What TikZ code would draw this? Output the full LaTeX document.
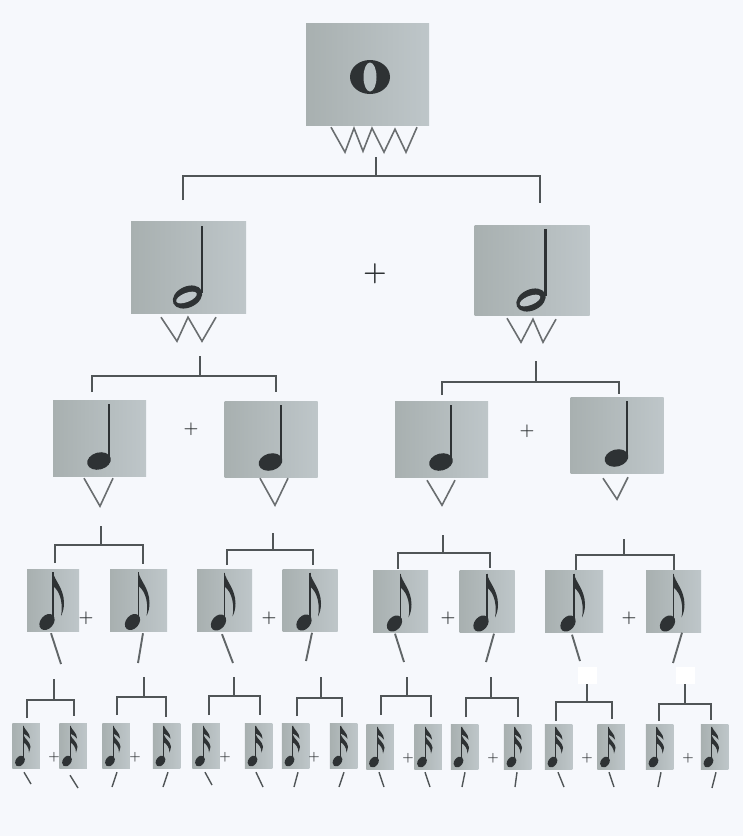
\documentclass[tikz,border=0pt]{standalone}
\usepackage{xcolor}
\usepackage{tikz}
\usetikzlibrary{calc}
\definecolor{fond}{HTML}{F6F8FC}
\definecolor{cartea}{HTML}{A8B0B0}
\definecolor{carteb}{HTML}{BEC6C9}
\definecolor{encre}{HTML}{2E3234}
\definecolor{gris}{HTML}{505557}
\tikzset{
  carte/.style={rectangle, inner sep=0, left color=cartea, right color=carteb, draw=none},
  carteA/.style={carte, minimum width=123pt, minimum height=102pt},
  carteB/.style={carte, minimum width=115pt, minimum height=92pt},
  carteC/.style={carte, minimum width=93pt, minimum height=76pt},
  carteD/.style={carte, minimum width=55pt, minimum height=62pt},
  carteE/.style={carte, minimum width=27.5pt, minimum height=45pt},
  blanc/.style={rectangle, fill=white, inner sep=0, minimum width=19pt, minimum height=17pt},
  plusA/.style={text=encre, inner sep=0, font=\fontsize{27}{27}\selectfont\bfseries},
  plusB/.style={text=encre, inner sep=0, font=\fontsize{17}{17}\selectfont\bfseries},
  plusC/.style={text=encre, inner sep=0, font=\fontsize{13}{13}\selectfont\bfseries},
  lien/.style={line width=1.8pt, color=gris},
  lienfin/.style={line width=1.4pt, color=gris},
  zigzag/.style={line width=1.6pt, color=gris!85, line join=miter},
  trait/.style={line width=1.9pt, color=gris!90},
  ronde/.pic={
    \fill[encre] (2.5,3) ellipse[x radius=20pt, y radius=17pt];
    \fill[carteb!70!cartea] (2.5,3) ellipse[x radius=6.5pt, y radius=14.5pt];
  },
  blanche/.pic={
    \draw[encre, line width=2.2pt] (13.5,-41) -- (13.5,26);
    \fill[encre] (-1,30) ellipse[x radius=15.5pt, y radius=10.5pt, rotate=25];
    \fill[carteb] (-2,30.5) ellipse[x radius=11pt, y radius=4.5pt, rotate=22];
  },
  noire/.pic={
    \draw[encre, line width=2pt] (9.5,-34) -- (9.5,21);
    \fill[encre] (-0.5,23) ellipse[x radius=12pt, y radius=8.5pt, rotate=15];
  },
  croche/.pic={
    \draw[encre, line width=1.6pt] (0,-28) -- (0,17);
    \fill[encre] (-6,22) ellipse[x radius=9pt, y radius=6.5pt, rotate=50];
    \fill[encre] (0,-28) .. controls (1,-20) and (11,-12) .. (11,3)
      .. controls (11,8) and (10,12) .. (8,16)
      .. controls (10,5) and (8,-8) .. (0,-14) -- cycle;
  },
  doublecroche/.pic={
    \draw[encre, line width=1.1pt] (-2.7,-20) -- (-2.7,13);
    \fill[encre] (-6,15.5) ellipse[x radius=6pt, y radius=4.2pt, rotate=55];
    \fill[encre] (-2.7,-20) .. controls (-1,-15) and (4,-13) .. (4,-7)
      .. controls (2,-9) and (0,-11) .. (-2.7,-12) -- cycle;
    \fill[encre] (-2.7,-11) .. controls (-1,-6) and (4,-4) .. (4.5,1)
      .. controls (4.5,3) and (3.5,5) .. (3,7)
      .. controls (3,2) and (0,-2) .. (-2.7,-3) -- cycle;
  }
}

\begin{document}
\begin{tikzpicture}[x=1pt, y=-1pt]
  \useasboundingbox (0,0) rectangle (743,836);
  \fill[fond] (0,0) rectangle (743,836);

  % les cartes
  \node[carteA] (r0) at (367.5,74) {};

  \node[carteB] (r1a) at (188.5,267) {};
  \node[carteB, minimum height=90pt] (r1b) at (532,270) {};

  \node[carteC] (r2a) at (99.5,438) {};
  \node[carteC] (r2b) at (271,439) {};
  \node[carteC] (r2c) at (441.5,439) {};
  \node[carteC] (r2d) at (617,435) {};

  \node[carteD, minimum width=52pt] (r3a) at (53,600) {};
  \node[carteD, minimum width=57pt] (r3b) at (138.5,600) {};
  \node[carteD] (r3c) at (224.5,600.5) {};
  \node[carteD] (r3d) at (310,600.5) {};
  \node[carteD] (r3e) at (400.5,601.5) {};
  \node[carteD] (r3f) at (487,601.5) {};
  \node[carteD, minimum width=58pt] (r3g) at (574,601.5) {};
  \node[carteD] (r3h) at (673.5,601.5) {};

  \node[carteE] (r4a) at (26,745.5) {};
  \node[carteE] (r4b) at (73,745.5) {};
  \node[carteE] (r4c) at (116,745.5) {};
  \node[carteE] (r4d) at (166.5,745.5) {};
  \node[carteE] (r4e) at (206,745.5) {};
  \node[carteE] (r4f) at (258.5,745.5) {};
  \node[carteE] (r4g) at (295.5,745.5) {};
  \node[carteE] (r4h) at (343.5,745.5) {};
  \node[carteE] (r4i) at (380,746.5) {};
  \node[carteE] (r4j) at (428,746.5) {};
  \node[carteE] (r4k) at (464.5,746.5) {};
  \node[carteE] (r4l) at (517.5,746.5) {};
  \node[carteE] (r4m) at (558.5,746.5) {};
  \node[carteE] (r4n) at (611,746.5) {};
  \node[carteE] (r4o) at (659.5,746.5) {};
  \node[carteE] (r4p) at (714.5,746.5) {};

  % les notes
  \pic at (r0) {ronde};
  \pic at (r1a) {blanche};
  \pic at (r1b) {blanche};
  \pic at (r2a) {noire};
  \pic at (r2b) {noire};
  \pic at (r2c) {noire};
  \pic at (r2d) {noire};
  \pic at (r3a) {croche};
  \pic at (r3b) {croche};
  \pic at (r3c) {croche};
  \pic at (r3d) {croche};
  \pic at (r3e) {croche};
  \pic at (r3f) {croche};
  \pic at (r3g) {croche};
  \pic at (r3h) {croche};
  \pic at (r4a) {doublecroche};
  \pic at (r4b) {doublecroche};
  \pic at (r4c) {doublecroche};
  \pic at (r4d) {doublecroche};
  \pic at (r4e) {doublecroche};
  \pic at (r4f) {doublecroche};
  \pic at (r4g) {doublecroche};
  \pic at (r4h) {doublecroche};
  \pic at (r4i) {doublecroche};
  \pic at (r4j) {doublecroche};
  \pic at (r4k) {doublecroche};
  \pic at (r4l) {doublecroche};
  \pic at (r4m) {doublecroche};
  \pic at (r4n) {doublecroche};
  \pic at (r4o) {doublecroche};
  \pic at (r4p) {doublecroche};

  % les signes
  \node[plusA] (p1) at (375,274) {+};
  \node[plusB] (p2a) at (191,429) {+};
  \node[plusB] (p2b) at (527,431) {+};
  \node[plusB] (p3a) at (86,618) {+};
  \node[plusB] (p3b) at (269,618) {+};
  \node[plusB] (p3c) at (448,618) {+};
  \node[plusB] (p3d) at (629,618) {+};
  \node[plusC] (p4a) at (54,757) {+};
  \node[plusC] (p4b) at (135,757) {+};
  \node[plusC] (p4c) at (225,757) {+};
  \node[plusC] (p4d) at (314,757) {+};
  \node[plusC] (p4e) at (408,758) {+};
  \node[plusC] (p4f) at (493,758) {+};
  \node[plusC] (p4g) at (587,758) {+};
  \node[plusC] (p4h) at (688,758) {+};

  \node[blanc] (b1) at (587,675.5) {};
  \node[blanc] (b2) at (685,675.5) {};

  % les zigzags
  \draw[zigzag] ([xshift=-36.5pt,yshift=-2pt]r0.south) -- ++(14,25) -- ++(9,-24) -- ++(9,23) -- ++(9,-23) -- ++(12,24) -- ++(11,-23) -- ++(11,23) -- ++(11,-25);
  \draw[zigzag] ([xshift=-27.5pt,yshift=-4pt]r1a.south) -- ++(16,24) -- ++(11,-24) -- ++(14,24) -- ++(14,-24);
  \draw[zigzag] ([xshift=-25pt,yshift=-3pt]r1b.south) -- ++(14,24) -- ++(12,-23) -- ++(10,23) -- ++(13,-23);
  \draw[zigzag] ([xshift=-15.5pt,yshift=-2pt]r2a.south) -- ++(16,28) -- ++(13,-28);
  \draw[zigzag] ([xshift=-11pt,yshift=-1pt]r2b.south) -- ++(15,27) -- ++(13,-27);
  \draw[zigzag] ([xshift=-14.5pt,yshift=-3pt]r2c.south) -- ++(15,25) -- ++(13,-25);
  \draw[zigzag] ([xshift=-14pt,yshift=-5pt]r2d.south) -- ++(14,21) -- ++(11,-22);

  % les crochets
  \coordinate (h0) at (376,157); \coordinate (j0) at (376,176); \coordinate (g0) at (183,200); \coordinate (d0) at (540,203);
  \draw[lienfin] (h0) -- (j0);
  \draw[lienfin] (g0) |- (j0) -| (d0);
  \coordinate (h1a) at (200,356); \coordinate (j1a) at (200,376); \coordinate (g1a) at (92,392); \coordinate (d1a) at (276,392);
  \draw[lienfin] (h1a) -- (j1a);
  \draw[lienfin] (g1a) |- (j1a) -| (d1a);
  \coordinate (h1b) at (536,361); \coordinate (j1b) at (536,382); \coordinate (g1b) at (442,395); \coordinate (d1b) at (619,394);
  \draw[lienfin] (h1b) -- (j1b);
  \draw[lienfin] (g1b) |- (j1b) -| (d1b);

  \coordinate (h2a) at (101,526); \coordinate (j2a) at (101,545); \coordinate (g2a) at (55,563); \coordinate (d2a) at (143,564);
  \draw[lien] (h2a) -- (j2a);
  \draw[lien] (g2a) |- (j2a) -| (d2a);
  \coordinate (h2b) at (273,533); \coordinate (j2b) at (273,550); \coordinate (g2b) at (227,565); \coordinate (d2b) at (313,565);
  \draw[lien] (h2b) -- (j2b);
  \draw[lien] (g2b) |- (j2b) -| (d2b);
  \coordinate (h2c) at (443,535); \coordinate (j2c) at (443,553); \coordinate (g2c) at (398,569); \coordinate (d2c) at (490,568);
  \draw[lien] (h2c) -- (j2c);
  \draw[lien] (g2c) |- (j2c) -| (d2c);
  \coordinate (h2d) at (624,539); \coordinate (j2d) at (624,555); \coordinate (g2d) at (576,570); \coordinate (d2d) at (674,570);
  \draw[lien] (h2d) -- (j2d);
  \draw[lien] (g2d) |- (j2d) -| (d2d);

  \coordinate (h3a) at (54,679); \coordinate (j3a) at (54,700); \coordinate (g3a) at (27,718); \coordinate (d3a) at (74,716);
  \draw[lien] (h3a) -- (j3a);
  \draw[lien] (g3a) |- (j3a) -| (d3a);
  \coordinate (h3b) at (144,677); \coordinate (j3b) at (144,697); \coordinate (g3b) at (117,715); \coordinate (d3b) at (166,717);
  \draw[lien] (h3b) -- (j3b);
  \draw[lien] (g3b) |- (j3b) -| (d3b);
  \coordinate (h3c) at (234,677); \coordinate (j3c) at (234,696); \coordinate (g3c) at (209,715); \coordinate (d3c) at (260,715);
  \draw[lien] (h3c) -- (j3c);
  \draw[lien] (g3c) |- (j3c) -| (d3c);
  \coordinate (h3d) at (321,677); \coordinate (j3d) at (321,698); \coordinate (g3d) at (297,716); \coordinate (d3d) at (342,717);
  \draw[lien] (h3d) -- (j3d);
  \draw[lien] (g3d) |- (j3d) -| (d3d);
  \coordinate (h3e) at (407,677); \coordinate (j3e) at (407,696); \coordinate (g3e) at (381,715); \coordinate (d3e) at (431,717);
  \draw[lien] (h3e) -- (j3e);
  \draw[lien] (g3e) |- (j3e) -| (d3e);
  \coordinate (h3f) at (491,677); \coordinate (j3f) at (491,698); \coordinate (g3f) at (466,717); \coordinate (d3f) at (518,717);
  \draw[lien] (h3f) -- (j3f);
  \draw[lien] (g3f) |- (j3f) -| (d3f);
  \coordinate (j3g) at (587,702); \coordinate (g3g) at (556,721); \coordinate (d3g) at (612,719);
  \draw[lien] (b1) -- (j3g);
  \draw[lien] (g3g) |- (j3g) -| (d3g);
  \coordinate (j3h) at (685,704); \coordinate (g3h) at (659,721); \coordinate (d3h) at (711,720);
  \draw[lien] (b2) -- (j3h);
  \draw[lien] (g3h) |- (j3h) -| (d3h);

  % les traits sous les cartes
  \coordinate (q3a) at (61,664);  \draw[trait] ([xshift=-2pt,yshift=-2pt]r3a.south) -- (q3a);
  \coordinate (q3b) at (138,663); \draw[trait] ([xshift=4.5pt,yshift=-2pt]r3b.south) -- (q3b);
  \coordinate (q3c) at (233,663); \draw[trait] ([xshift=-2.5pt,yshift=-2.5pt]r3c.south) -- (q3c);
  \coordinate (q3d) at (306,661); \draw[trait] ([xshift=2pt,yshift=-1pt]r3d.south) -- (q3d);
  \coordinate (q3e) at (404,662); \draw[trait] ([xshift=-5.5pt,yshift=-1pt]r3e.south) -- (q3e);
  \coordinate (q3f) at (486,662); \draw[trait] ([xshift=7pt,yshift=-1pt]r3f.south) -- (q3f);
  \coordinate (q3g) at (580,661); \draw[trait] ([xshift=-2pt,yshift=-2pt]r3g.south) -- (q3g);
  \coordinate (q3h) at (673,663); \draw[trait] ([xshift=8.5pt,yshift=0pt]r3h.south) -- (q3h);

  \coordinate (q4a) at (31,784);  \draw[lienfin] ([xshift=-2pt,yshift=-4pt]r4a.south) -- (q4a);
  \coordinate (q4b) at (78,788);  \draw[lienfin] ([xshift=-3pt,yshift=-7pt]r4b.south) -- (q4b);
  \coordinate (q4c) at (112,787); \draw[lienfin] ([xshift=1pt,yshift=-4pt]r4c.south) -- (q4c);
  \coordinate (q4d) at (163,787); \draw[lienfin] ([xshift=1.5pt,yshift=-4pt]r4d.south) -- (q4d);
  \coordinate (q4e) at (212,785); \draw[lienfin] ([xshift=-1pt,yshift=-4pt]r4e.south) -- (q4e);
  \coordinate (q4f) at (263,787); \draw[lienfin] ([xshift=-2.5pt,yshift=-4pt]r4f.south) -- (q4f);
  \coordinate (q4g) at (294,787); \draw[lienfin] ([xshift=2.5pt,yshift=-4pt]r4g.south) -- (q4g);
  \coordinate (q4h) at (339,787); \draw[lienfin] ([xshift=0.5pt,yshift=-4pt]r4h.south) -- (q4h);
  \coordinate (q4i) at (384,787); \draw[lienfin] ([xshift=-1pt,yshift=-3pt]r4i.south) -- (q4i);
  \coordinate (q4j) at (430,787); \draw[lienfin] ([xshift=-3pt,yshift=-3pt]r4j.south) -- (q4j);
  \coordinate (q4k) at (462,787); \draw[lienfin] ([xshift=0.5pt,yshift=-3pt]r4k.south) -- (q4k);
  \coordinate (q4l) at (515,787); \draw[lienfin] ([xshift=-0.5pt,yshift=-3pt]r4l.south) -- (q4l);
  \coordinate (q4m) at (564,787); \draw[lienfin] ([xshift=-0.5pt,yshift=-3pt]r4m.south) -- (q4m);
  \coordinate (q4n) at (614,787); \draw[lienfin] ([xshift=-2pt,yshift=-3pt]r4n.south) -- (q4n);
  \coordinate (q4o) at (658,787); \draw[lienfin] ([xshift=1.5pt,yshift=-3pt]r4o.south) -- (q4o);
  \coordinate (q4p) at (712,788); \draw[lienfin] ([xshift=1.5pt,yshift=-3pt]r4p.south) -- (q4p);
\end{tikzpicture}
\end{document}
